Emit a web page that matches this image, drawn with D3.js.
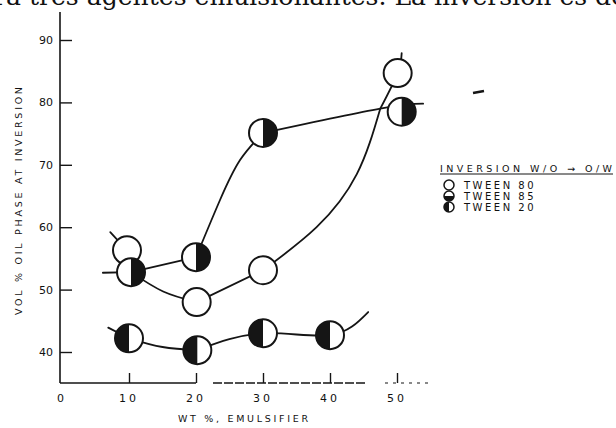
<!DOCTYPE html>
<html>
<head>
<meta charset="utf-8">
<script src="https://cdn.jsdelivr.net/npm/d3@7"></script>
<style>
  html, body { margin: 0; padding: 0; background: #fff; }
  svg { display: block; }
  text { fill: #111; }
</style>
</head>
<body>
<svg id="chart" width="616" height="428"></svg>
<script>
// ---------- data ----------
const xTicks = [0, 10, 20, 30, 40, 50];
const yTicks = [40, 50, 60, 70, 80, 90];

// open circles (Tween 80)
const openX = [9.7, 20.1, 30, 50.1];
const openY = [56.3, 48, 53.1, 84.7];
// circles with right half filled (upper curve)
const rightHalfX = [10.3, 20, 30, 50.7];
const rightHalfY = [52.8, 55.2, 75.1, 78.5];
// circles with left half filled (lower curve, Tween 20)
const leftHalfX = [10, 20.2, 30, 40];
const leftHalfY = [42.2, 40.3, 43, 42.7];

// hand-drawn curve pieces
const upperSeg1X = [10.3, 20];          const upperSeg1Y = [52.8, 55.2];
const upperSeg2X = [20, 23.6, 26.6, 30]; const upperSeg2Y = [55.2, 64.4, 70.8, 75.1];
const upperSeg3X = [30, 47.5, 53.9];     const upperSeg3Y = [75.1, 79, 79.8];

const midSeg1X = [10.3, 15.1, 20.1];     const midSeg1Y = [52.8, 49.7, 48];
const midSeg2X = [20.1, 30];             const midSeg2Y = [48, 53.1];
const midSeg3X = [30, 38, 44, 47.5];     const midSeg3Y = [53.1, 60, 68.5, 79];
const midSeg4X = [47.5, 50.1, 50.7];     const midSeg4Y = [79, 84.7, 87.9];

const lowSeg1X = [10, 15, 20.2];         const lowSeg1Y = [42.2, 40.8, 40.3];
const lowSeg2X = [20.2, 30, 40, 45.7];   const lowSeg2Y = [40.3, 43, 42.7, 46.4];

// short stray strokes on the markers
const stubX1 = [7.2, 9.7];   const stubY1 = [59.2, 56.3];
const stubX2 = [6.1, 10.3];  const stubY2 = [52.7, 52.8];
const stubX3 = [6.9, 10];    const stubY3 = [43.9, 42.2];

const legendLabels = ["TWEEN 80", "TWEEN 85", "TWEEN 20"];
const legendKinds = ["open", "lower", "left"];

// ---------- drawing ----------
const svg = d3.select("#chart");
const x = d3.scaleLinear().domain([0, 50]).range([62, 397]);
const y = d3.scaleLinear().domain([40, 90]).range([352, 40]);
const ink = "#151515";

// cut-off text line at top of the scanned page
svg.append("text")
  .attr("x", -6).attr("y", 5)
  .attr("textLength", 632).attr("lengthAdjust", "spacingAndGlyphs")
  .style("font-family", "'DejaVu Serif', serif")
  .style("font-size", "24px")
  .text("ra tres agentes emulsionantes. La inversión es de");

// y axis
svg.append("line").attr("x1", 60).attr("x2", 60).attr("y1", 12).attr("y2", 383)
  .attr("stroke", ink).attr("stroke-width", 1.6);
const yAxis = d3.axisRight(y).tickValues(yTicks).tickSize(12).tickFormat("");
const gy = svg.append("g").attr("transform", "translate(60,0)").call(yAxis);
gy.select(".domain").remove();
gy.selectAll("line").attr("stroke", ink).attr("stroke-width", 1.4);
svg.append("g").selectAll("text").data(yTicks).join("text")
  .attr("x", 53).attr("y", d => y(d) + 4)
  .attr("text-anchor", "end")
  .style("font-family", "'DejaVu Sans', sans-serif")
  .style("font-size", "11px")
  .text(d => d);

// x axis
svg.append("line").attr("x1", 60).attr("x2", 196).attr("y1", 383).attr("y2", 383)
  .attr("stroke", ink).attr("stroke-width", 1.5);
svg.append("line").attr("x1", 213).attr("x2", 365).attr("y1", 383).attr("y2", 383)
  .attr("stroke", ink).attr("stroke-width", 1.3).attr("stroke-dasharray", "9,2");
svg.append("line").attr("x1", 385).attr("x2", 432).attr("y1", 383).attr("y2", 383)
  .attr("stroke", ink).attr("stroke-width", 1.2).attr("stroke-dasharray", "3,5");
const xAxis = d3.axisTop(x).tickValues(xTicks.slice(1)).tickSize(10).tickFormat("");
const gx = svg.append("g").attr("transform", "translate(0,383)").call(xAxis);
gx.select(".domain").remove();
gx.selectAll("line").attr("stroke", ink).attr("stroke-width", 1.4);
svg.append("g").selectAll("text").data(xTicks).join("text")
  .attr("x", d => x(d)).attr("y", 402)
  .attr("text-anchor", "middle")
  .style("font-family", "'DejaVu Sans', sans-serif")
  .style("font-size", "11px")
  .style("letter-spacing", "3px")
  .text(d => d);

// axis titles
svg.append("text")
  .attr("transform", "translate(22,201) rotate(-90)")
  .attr("text-anchor", "middle")
  .attr("textLength", 228).attr("lengthAdjust", "spacing")
  .style("font-family", "'DejaVu Sans', sans-serif")
  .style("font-size", "9.5px")
  .text("VOL % OIL PHASE AT INVERSION");
svg.append("text")
  .attr("x", 243).attr("y", 422)
  .attr("text-anchor", "middle")
  .attr("textLength", 130).attr("lengthAdjust", "spacing")
  .style("font-family", "'DejaVu Sans', sans-serif")
  .style("font-size", "9.5px")
  .text("WT %, EMULSIFIER");

// curves
const line = d3.line().x(d => x(d[0])).y(d => y(d[1])).curve(d3.curveNatural);
const segs = [
  [upperSeg1X, upperSeg1Y], [upperSeg2X, upperSeg2Y], [upperSeg3X, upperSeg3Y],
  [midSeg1X, midSeg1Y], [midSeg2X, midSeg2Y], [midSeg3X, midSeg3Y], [midSeg4X, midSeg4Y],
  [lowSeg1X, lowSeg1Y], [lowSeg2X, lowSeg2Y],
  [stubX1, stubY1], [stubX2, stubY2], [stubX3, stubY3]
];
svg.append("g").selectAll("path").data(segs).join("path")
  .attr("d", s => line(s[0].map((v, i) => [v, s[1][i]])))
  .attr("fill", "none").attr("stroke", ink).attr("stroke-width", 1.8)
  .attr("stroke-linecap", "round");

// markers
function marker(g, cx, cy, r, kind) {
  g.append("circle").attr("cx", cx).attr("cy", cy).attr("r", r)
    .attr("fill", "#fff").attr("stroke", ink).attr("stroke-width", r > 8 ? 2 : 1.5);
  let d = null;
  if (kind === "right") d = `M${cx},${cy - r} A${r},${r} 0 0 1 ${cx},${cy + r} Z`;
  if (kind === "left") d = `M${cx},${cy - r} A${r},${r} 0 0 0 ${cx},${cy + r} Z`;
  if (kind === "lower") d = `M${cx - r},${cy} A${r},${r} 0 0 0 ${cx + r},${cy} Z`;
  if (d) g.append("path").attr("d", d).attr("fill", ink);
}
const gm = svg.append("g");
const R = 14;
openX.forEach((v, i) => marker(gm, x(v), y(openY[i]), R, "open"));
leftHalfX.forEach((v, i) => marker(gm, x(v), y(leftHalfY[i]), R, "left"));
rightHalfX.forEach((v, i) => marker(gm, x(v), y(rightHalfY[i]), R, "right"));

// stray dash mark on the scan
svg.append("line").attr("x1", 473).attr("y1", 93).attr("x2", 484).attr("y2", 91)
  .attr("stroke", ink).attr("stroke-width", 2.6);

// legend
const lg = svg.append("g");
lg.append("text").attr("x", 440).attr("y", 172)
  .attr("textLength", 172).attr("lengthAdjust", "spacing")
  .style("font-family", "'DejaVu Sans', sans-serif")
  .style("font-size", "9.5px")
  .text("INVERSION W/O → O/W");
lg.append("line").attr("x1", 440).attr("x2", 613).attr("y1", 174).attr("y2", 174)
  .attr("stroke", ink).attr("stroke-width", 1);
legendLabels.forEach((lab, i) => {
  const yy = 185 + i * 11;
  marker(lg, 449, yy, 5, legendKinds[i]);
  lg.append("text").attr("x", 464).attr("y", yy + 4)
    .style("font-family", "'DejaVu Sans', sans-serif")
    .style("font-size", "10px").style("letter-spacing", "2.5px")
    .text(lab);
});
</script>
</body>
</html>
